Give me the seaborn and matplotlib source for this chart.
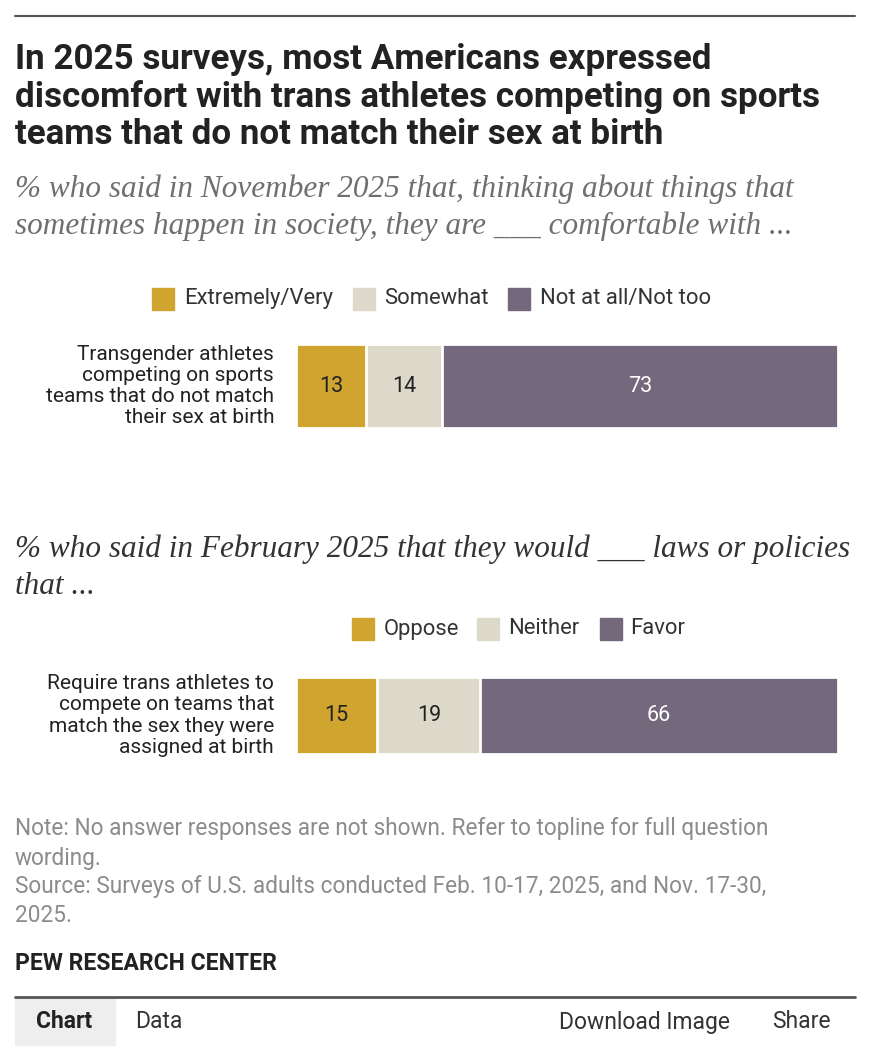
import numpy as np
import pandas as pd
import seaborn as sns
import matplotlib.pyplot as plt
from matplotlib.patches import Rectangle
from matplotlib.lines import Line2D

sns.set_theme(style='white')
plt.rcParams['font.family'] = ['Roboto', 'DejaVu Sans']

#_____ data
comfort_cats = ['Extremely/Very', 'Somewhat', 'Not at all/Not too']
comfort_vals = [13, 14, 73]
comfort_item = 'Transgender athletes\ncompeting on sports\nteams that do not match\ntheir sex at birth'

policy_cats = ['Oppose', 'Neither', 'Favor']
policy_vals = [15, 19, 66]
policy_item = 'Require trans athletes to\ncompete on teams that\nmatch the sex they were\nassigned at birth'

colors = ['#CFA530', '#DDD9CA', '#74697C']
label_colors = ['#222222', '#222222', 'white']

W, H = 871, 1058
fig = plt.figure(figsize=(W / 100, H / 100), dpi=100)

def fx(x):
    return x / W

def fy(y):
    return 1 - y / H

def ftext(x, y, s, **kw):
    kw.setdefault('va', 'center')
    fig.text(fx(x), fy(y), s, **kw)

def hline(y, lw, color):
    fig.add_artist(Line2D([fx(15), fx(855)], [fy(y), fy(y)], lw=lw, color=color))

def stacked_bar(top, bottom, cats, vals, item):
    ax = fig.add_axes([fx(296), fy(bottom), fx(838) - fx(296), (bottom - top) / H])
    df = pd.DataFrame({'item': ['x'] * len(cats), 'cat': cats, 'val': vals})
    df['cum'] = df['val'].cumsum()
    # draw cumulative totals from largest to smallest so segments overlap
    for i in reversed(range(len(df))):
        sns.barplot(data=df.iloc[[i]], x='cum', y='item', orient='h', color=colors[i],
                    saturation=1, width=1, edgecolor='white', linewidth=2, ax=ax)
    starts = df['cum'] - df['val']
    for i, r in df.iterrows():
        ax.text(starts[i] + r['val'] / 2, 0, str(r['val']), ha='center', va='center',
                fontsize=15.5, color=label_colors[i])
    ax.set_xlim(0, 100)
    ax.set_ylim(0.5, -0.5)
    ax.axis('off')
    ax.text(-22 / (838 - 296) * 100, 0, item, ha='right', va='center', fontsize=15,
            color='#222222', linespacing=1.15, transform=ax.transData)
    return ax

def legend(y, xs, cats):
    for (sx, tx), c, col in zip(xs, cats, colors):
        fig.add_artist(Rectangle((fx(sx), fy(y + 11)), fx(22), 22 / H, color=col,
                                 transform=fig.transFigure))
        ftext(tx, y, c, fontsize=15.8, color='#333333')

#_____ header
hline(16, 1.5, '#555555')
title = ['In 2025 surveys, most Americans expressed',
         'discomfort with trans athletes competing on sports',
         'teams that do not match their sex at birth']
for i, t in enumerate(title):
    ftext(15, 60 + i * 37, t, fontsize=25.2, fontweight='bold', color='#222222')

serif = ['Liberation Serif', 'DejaVu Serif']
sub1 = ['% who said in November 2025 that, thinking about things that',
        'sometimes happen in society, they are ___ comfortable with ...']
for i, t in enumerate(sub1):
    ftext(15, 189 + i * 37, t, fontsize=22.5, style='italic', family=serif, color='#6F6F6F')

#_____ first chart
legend(299, [(152, 184), (353, 384), (508, 540)], comfort_cats)
stacked_bar(344, 428, comfort_cats, comfort_vals, comfort_item)

#_____ second chart
sub2 = ['% who said in February 2025 that they would ___ laws or policies',
        'that ...']
for i, t in enumerate(sub2):
    ftext(15, 549 + i * 38, t, fontsize=22.5, style='italic', family=serif, color='#333333')

legend(629, [(352, 384), (477, 508), (600, 630)], policy_cats)
stacked_bar(677, 754, policy_cats, policy_vals, policy_item)

#_____ notes
notes = ['Note: No answer responses are not shown. Refer to topline for full question',
         'wording.',
         'Source: Surveys of U.S. adults conducted Feb. 10-17, 2025, and Nov. 17-30,',
         '2025.']
for i, t in enumerate(notes):
    ftext(15, 829 + i * 29, t, fontsize=16.3, color='#8C8C8C')

ftext(15, 964, 'PEW RESEARCH CENTER', fontsize=16.5, fontweight='bold', color='#222222')

#_____ tab bar
fig.add_artist(Rectangle((fx(15), fy(1045)), fx(100), 48 / H, color='#EEEEEE',
                         transform=fig.transFigure))
hline(997, 2, '#555555')
ftext(36, 1022, 'Chart', fontsize=16.5, fontweight='bold', color='#222222')
ftext(135, 1022, 'Data', fontsize=16.5, color='#333333')
ftext(559, 1022, 'Download Image', fontsize=16.5, color='#333333')
ftext(772, 1022, 'Share', fontsize=16.5, color='#333333')

fig.savefig('out.png', dpi=100)
